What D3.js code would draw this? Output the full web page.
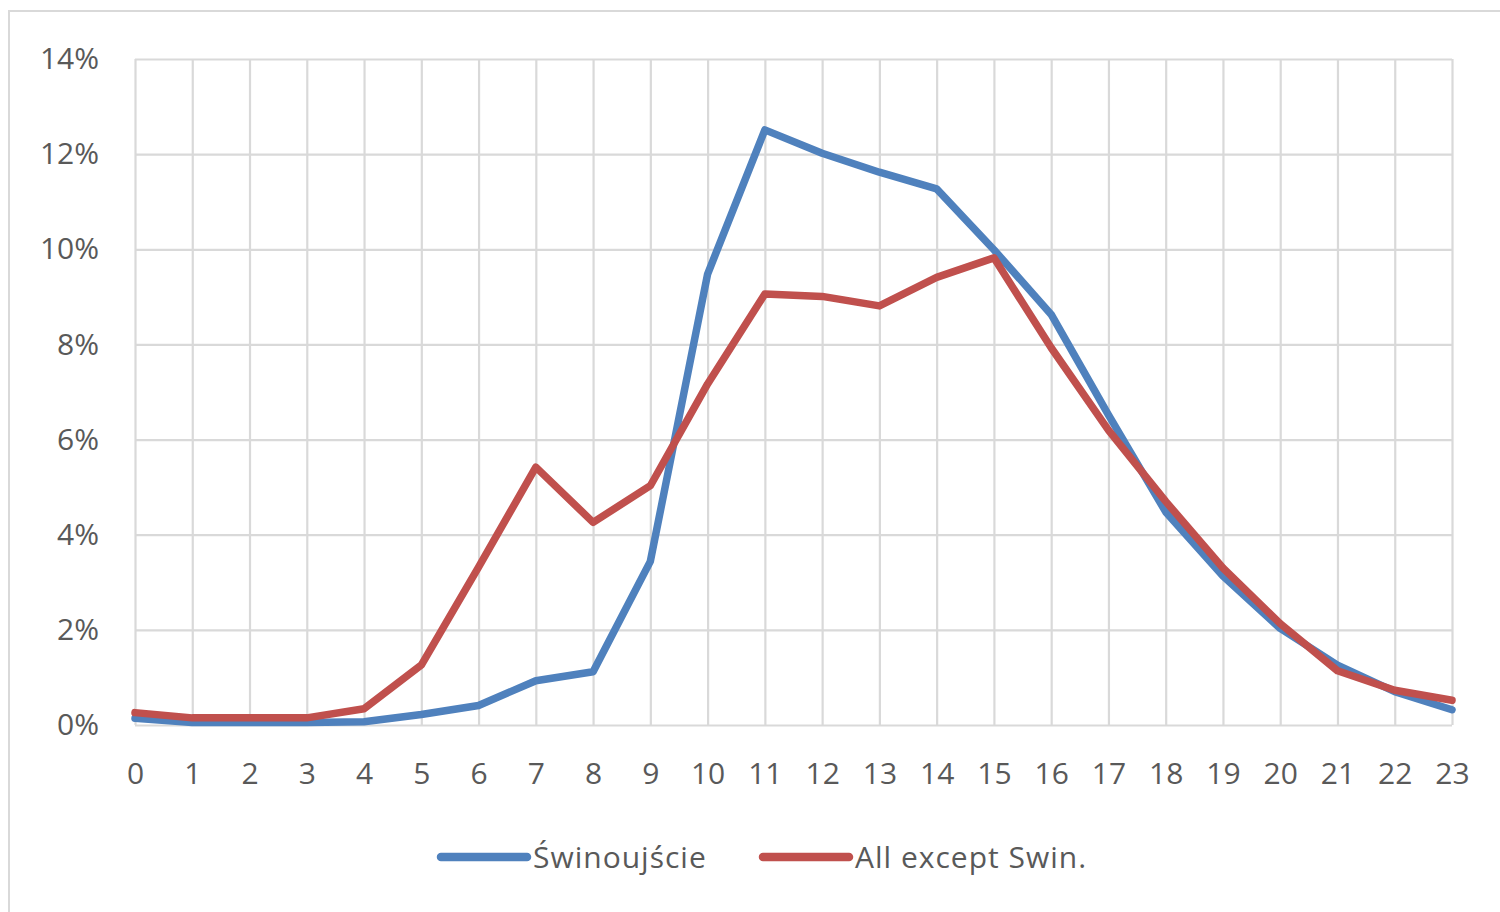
<!DOCTYPE html>
<html>
  <head>
    <meta charset="UTF-8">
    <script src="https://d3js.org/d3.v7.min.js"></script>
    <title>Hourly share</title>
    <style>
      body { margin: 0; background: #fff; }
      text { font-family: "Open Sans", "Noto Sans", sans-serif; fill: #595959; }
    </style>
  </head>

  <body>
    <svg id="f1" height="912" width="1500"></svg>
    <script>

    // hours of the day and share of traffic per hour
    var hours = d3.range(0, 24);
    var swinoujscie = [0.0014, 0.0005, 0.0005, 0.0005, 0.0007, 0.0022, 0.0041, 0.0093, 0.0112, 0.0344,
                       0.0948, 0.1251, 0.1202, 0.1162, 0.1127, 0.0999, 0.0863, 0.0652, 0.0448, 0.0313,
                       0.0203, 0.0126, 0.0070, 0.0032];
    var allExcept = [0.0026, 0.0015, 0.0015, 0.0015, 0.0034, 0.0126, 0.0332, 0.0542, 0.0426, 0.0503,
                     0.0717, 0.0906, 0.0901, 0.0881, 0.0941, 0.0982, 0.0793, 0.0620, 0.0470, 0.0330,
                     0.0213, 0.0114, 0.0073, 0.0052];
    var yTicks = [0, 0.02, 0.04, 0.06, 0.08, 0.10, 0.12, 0.14];
    var seriesNames = ["Świnoujście", "All except Swin."];
    var seriesColors = ["#4F81BD", "#C0504D"];

    var svg = d3.select("#f1");
    var plotLeft = 135, plotRight = 1452, plotTop = 59, plotBottom = 725;

    // outer chart frame
    svg.append("rect")
      .attr("x", 9).attr("y", 11)
      .attr("width", 1520).attr("height", 940)
      .attr("fill", "none")
      .attr("stroke", "#D9D9D9")
      .attr("stroke-width", 2);

    var x = d3.scaleLinear().domain([0, 23]).range([plotLeft, plotRight]);
    var y = d3.scaleLinear().domain([0, 0.14]).range([plotBottom, plotTop]);

    var yAxis = svg.append("g")
      .attr("transform", "translate(" + plotLeft + ",0)")
      .call(d3.axisLeft(y).tickValues(yTicks).tickFormat(d3.format(".0%"))
        .tickSize(-(plotRight - plotLeft)).tickPadding(36));

    var xAxis = svg.append("g")
      .attr("transform", "translate(0," + plotBottom + ")")
      .call(d3.axisBottom(x).tickValues(hours).tickFormat(d3.format("d"))
        .tickSize(-(plotBottom - plotTop)).tickPadding(40));

    [xAxis, yAxis].forEach(function(g) {
      g.select(".domain").remove();
      g.selectAll(".tick line").attr("stroke", "#D9D9D9").attr("stroke-width", 2.2);
      g.selectAll(".tick text")
        .style("font-family", '"Open Sans", "Noto Sans", sans-serif')
        .style("font-size", "30px")
        .attr("fill", "#595959");
    });
    xAxis.selectAll(".tick text").attr("dy", "0.35em").attr("y", 48);

    var line = d3.line()
      .x(function(d, i) { return x(hours[i]); })
      .y(function(d) { return y(d); });

    [swinoujscie, allExcept].forEach(function(series, k) {
      svg.append("path")
        .datum(series)
        .attr("d", line)
        .attr("fill", "none")
        .attr("stroke", seriesColors[k])
        .attr("stroke-width", 7.5)
        .attr("stroke-linejoin", "round")
        .attr("stroke-linecap", "round");
    });

    // legend
    var legendX = [441, 763];
    var legend = svg.append("g");
    seriesNames.forEach(function(name, k) {
      legend.append("line")
        .attr("x1", legendX[k]).attr("x2", legendX[k] + 86)
        .attr("y1", 857).attr("y2", 857)
        .attr("stroke", seriesColors[k])
        .attr("stroke-width", 8.5)
        .attr("stroke-linecap", "round");
      legend.append("text")
        .attr("x", legendX[k] + 92)
        .attr("y", 857)
        .attr("dy", "0.35em")
        .style("font-size", "30px")
        .style("letter-spacing", "1px")
        .text(name);
    });
    </script>
  </body>
</html>
